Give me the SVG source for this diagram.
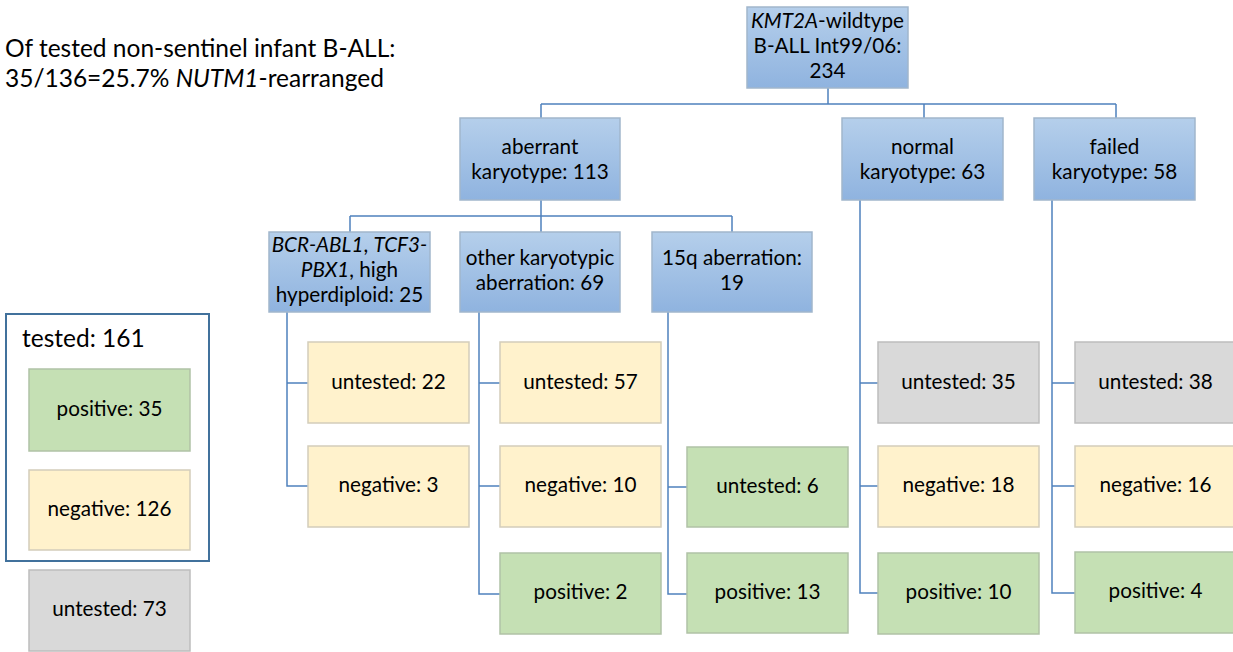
<svg xmlns="http://www.w3.org/2000/svg" width="1233" height="652" viewBox="0 0 1233 652">
<defs>
<linearGradient id="gBlue" x1="0" y1="0" x2="0" y2="1">
<stop offset="0" stop-color="#b5cfeb"/>
<stop offset="1" stop-color="#8fb3df"/>
</linearGradient>
<style>
text{font-family:Lato,"Liberation Sans",sans-serif;fill:#000;}
.t{font-size:20.7px;text-anchor:middle;}
.big{font-size:24.5px;}
.blue{fill:url(#gBlue);stroke:#a1b6cc;stroke-width:1.5;}
.green{fill:#c5e0b4;stroke:#b0c2a6;stroke-width:1.5;}
.yellow{fill:#fff2cc;stroke:#d3cdbb;stroke-width:1.5;}
.gray{fill:#d9d9d9;stroke:#bdbdbd;stroke-width:1.5;}
.conn{fill:none;stroke:#4f81bd;stroke-width:1.5;}
</style>
</defs>
<rect width="1233" height="652" fill="#fff"/>

<text class="big" x="5" y="57">Of tested non-sentinel infant B-ALL:</text>
<text class="big" x="5" y="87">35/136=25.7% <tspan font-style="italic">NUTM1</tspan>-rearranged</text>

<g id="connectors">
<path class="conn" d="M828,88 V104 M541,104 H1116 M541,104 V118 M924,104 V118 M1116,104 V118"/>
<path class="conn" d="M541,200 V216 M350,216 H732 M350,216 V232 M541,216 V232 M732,216 V232"/>
<path class="conn" d="M287,312 V486 H308 M287,383 H308"/>
<path class="conn" d="M479,312 V594 H500 M479,383 H500 M479,486 H500"/>
<path class="conn" d="M668,312 V594 H687 M668,487 H687"/>
<path class="conn" d="M860,200 V593 H878 M860,383 H878 M860,486 H878"/>
<path class="conn" d="M1052,200 V593 H1075 M1052,383 H1075 M1052,486 H1075"/>
</g>

<g id="root">
<rect class="blue" x="747" y="7" width="161" height="81"/>
<text class="t" x="827.5" y="27.5"><tspan font-style="italic">KMT2A</tspan>-wildtype</text>
<text class="t" x="827.5" y="52.5">B-ALL Int99/06:</text>
<text class="t" x="827.5" y="77.5">234</text>
</g>

<g id="aberrant">
<rect class="blue" x="460" y="118" width="160" height="82"/>
<text class="t" x="540" y="154">aberrant</text>
<text class="t" x="540" y="179">karyotype: 113</text>
</g>
<g id="normal">
<rect class="blue" x="842" y="118" width="161" height="82"/>
<text class="t" x="922.5" y="154">normal</text>
<text class="t" x="922.5" y="179">karyotype: 63</text>
</g>
<g id="failed">
<rect class="blue" x="1034" y="118" width="161" height="82"/>
<text class="t" x="1114.5" y="154">failed</text>
<text class="t" x="1114.5" y="179">karyotype: 58</text>
</g>

<g id="bcr">
<rect class="blue" x="269" y="232" width="161" height="80"/>
<text class="t" x="349.5" y="252"><tspan font-style="italic">BCR-ABL1</tspan>, <tspan font-style="italic">TCF3-</tspan></text>
<text class="t" x="349.5" y="277"><tspan font-style="italic">PBX1</tspan>, high</text>
<text class="t" x="349.5" y="302">hyperdiploid: 25</text>
</g>
<g id="other">
<rect class="blue" x="460" y="232" width="160" height="80"/>
<text class="t" x="540" y="265">other karyotypic</text>
<text class="t" x="540" y="290">aberration: 69</text>
</g>
<g id="q15">
<rect class="blue" x="652" y="232" width="160" height="80"/>
<text class="t" x="732" y="265">15q aberration:</text>
<text class="t" x="732" y="290">19</text>
</g>

<g id="bcr-untested">
<rect class="yellow" x="308" y="342" width="161" height="81"/>
<text class="t" x="388.5" y="389">untested: 22</text>
</g>
<g id="bcr-negative">
<rect class="yellow" x="308" y="446" width="161" height="81"/>
<text class="t" x="388.5" y="492">negative: 3</text>
</g>

<g id="other-untested">
<rect class="yellow" x="500" y="342" width="161" height="81"/>
<text class="t" x="580.5" y="389">untested: 57</text>
</g>
<g id="other-negative">
<rect class="yellow" x="500" y="446" width="161" height="81"/>
<text class="t" x="580.5" y="492">negative: 10</text>
</g>
<g id="other-positive">
<rect class="green" x="500" y="553" width="161" height="81"/>
<text class="t" x="580.5" y="599">positive: 2</text>
</g>

<g id="q15-untested">
<rect class="green" x="687" y="447" width="161" height="80"/>
<text class="t" x="767.5" y="493">untested: 6</text>
</g>
<g id="q15-positive">
<rect class="green" x="687" y="553" width="161" height="80"/>
<text class="t" x="767.5" y="599">positive: 13</text>
</g>

<g id="normal-untested">
<rect class="gray" x="878" y="342" width="161" height="81"/>
<text class="t" x="958.5" y="389">untested: 35</text>
</g>
<g id="normal-negative">
<rect class="yellow" x="878" y="446" width="161" height="81"/>
<text class="t" x="958.5" y="492">negative: 18</text>
</g>
<g id="normal-positive">
<rect class="green" x="878" y="553" width="161" height="81"/>
<text class="t" x="958.5" y="599">positive: 10</text>
</g>

<g id="failed-untested">
<rect class="gray" x="1075" y="342" width="161" height="81"/>
<text class="t" x="1155.5" y="389">untested: 38</text>
</g>
<g id="failed-negative">
<rect class="yellow" x="1075" y="446" width="161" height="81"/>
<text class="t" x="1155.5" y="492">negative: 16</text>
</g>
<g id="failed-positive">
<rect class="green" x="1075" y="552" width="161" height="81"/>
<text class="t" x="1155.5" y="598">positive: 4</text>
</g>

<g id="legend">
<rect x="6" y="314" width="203" height="247" fill="#fff" stroke="#41719c" stroke-width="2"/>
<text class="big" x="22" y="347">tested: 161</text>
<rect class="green" x="29" y="369" width="161" height="82"/>
<text class="t" x="109.5" y="416">positive: 35</text>
<rect class="yellow" x="29" y="470" width="161" height="80"/>
<text class="t" x="109.5" y="516">negative: 126</text>
<rect class="gray" x="29" y="570" width="161" height="81"/>
<text class="t" x="109.5" y="616">untested: 73</text>
</g>
</svg>
